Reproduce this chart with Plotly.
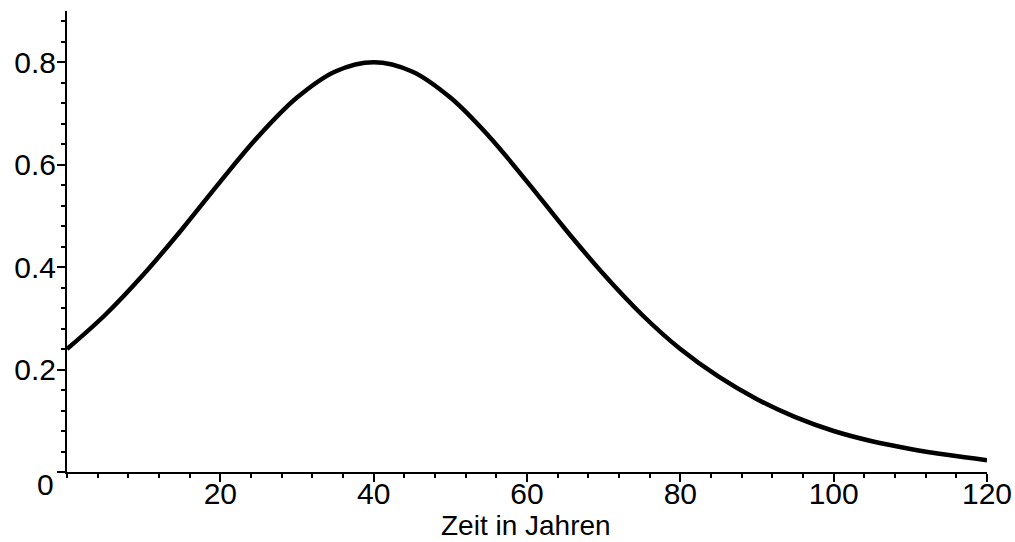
import plotly.graph_objects as go

# Data
years = [0, 5, 10, 15, 20, 25, 30, 35, 40, 45, 50, 55, 60, 65, 70, 75, 80,
         85, 90, 95, 100, 105, 110, 115, 120]
values = [0.240, 0.307, 0.386, 0.474, 0.567, 0.656, 0.731, 0.782, 0.800,
          0.782, 0.731, 0.656, 0.567, 0.474, 0.386, 0.307, 0.240,
          0.186, 0.142, 0.107, 0.080, 0.060, 0.045, 0.033, 0.023]

x_tickvals = [20, 40, 60, 80, 100, 120]
x_ticktext = ["20", "40", "60", "80", "100", "120"]
y_tickvals = [0, 0.2, 0.4, 0.6, 0.8]
y_ticktext = ["", "0.2", "0.4", "0.6", "0.8"]
x_title = "Zeit in Jahren"

FONT = "Liberation Sans, Arial, sans-serif"

fig = go.Figure()
fig.add_trace(go.Scatter(
    x=years, y=values, mode="lines",
    line=dict(color="black", width=4.5, shape="spline", smoothing=1.0),
    hoverinfo="skip", showlegend=False,
))

fig.update_layout(
    width=1015, height=542,
    margin=dict(l=67, r=28, t=11, b=70),
    paper_bgcolor="white", plot_bgcolor="white",
    font=dict(family=FONT, size=30, color="black"),
    xaxis=dict(
        range=[0, 120], showgrid=False, zeroline=False,
        showline=True, linecolor="black", linewidth=2,
        tickmode="array", tickvals=x_tickvals, ticktext=x_ticktext,
        ticks="outside", ticklen=8, tickwidth=2, tickcolor="black",
        ticklabelstandoff=-14,
        tickfont=dict(family=FONT, size=30, color="black"),
        minor=dict(tickmode="linear", tick0=0, dtick=4, ticks="outside",
                   ticklen=4, tickwidth=2, tickcolor="black", showgrid=False),
        automargin=False,
    ),
    yaxis=dict(
        range=[0, 0.9], showgrid=False, zeroline=False,
        showline=True, linecolor="black", linewidth=2,
        tickmode="array", tickvals=y_tickvals, ticktext=y_ticktext,
        ticks="outside", ticklen=8, tickwidth=2, tickcolor="black",
        ticklabelstandoff=-5,
        tickfont=dict(family=FONT, size=30, color="black"),
        minor=dict(tickmode="linear", tick0=0, dtick=0.04, ticks="outside",
                   ticklen=4, tickwidth=2, tickcolor="black", showgrid=False),
        automargin=False,
    ),
    annotations=[
        dict(text="0", xref="paper", x=0, yref="y", y=0,
             xanchor="right", yanchor="middle", xshift=-11, yshift=-12,
             showarrow=False, font=dict(family=FONT, size=30, color="black")),
        dict(text=x_title, xref="paper", x=0.5, yref="paper", y=0,
             xanchor="center", yanchor="top", xshift=-1, yshift=-36,
             showarrow=False, font=dict(family=FONT, size=28, color="black")),
    ],
)

fig.write_html("out.html", config={"displayModeBar": False},
               post_script="document.body.style.margin='0px';")
